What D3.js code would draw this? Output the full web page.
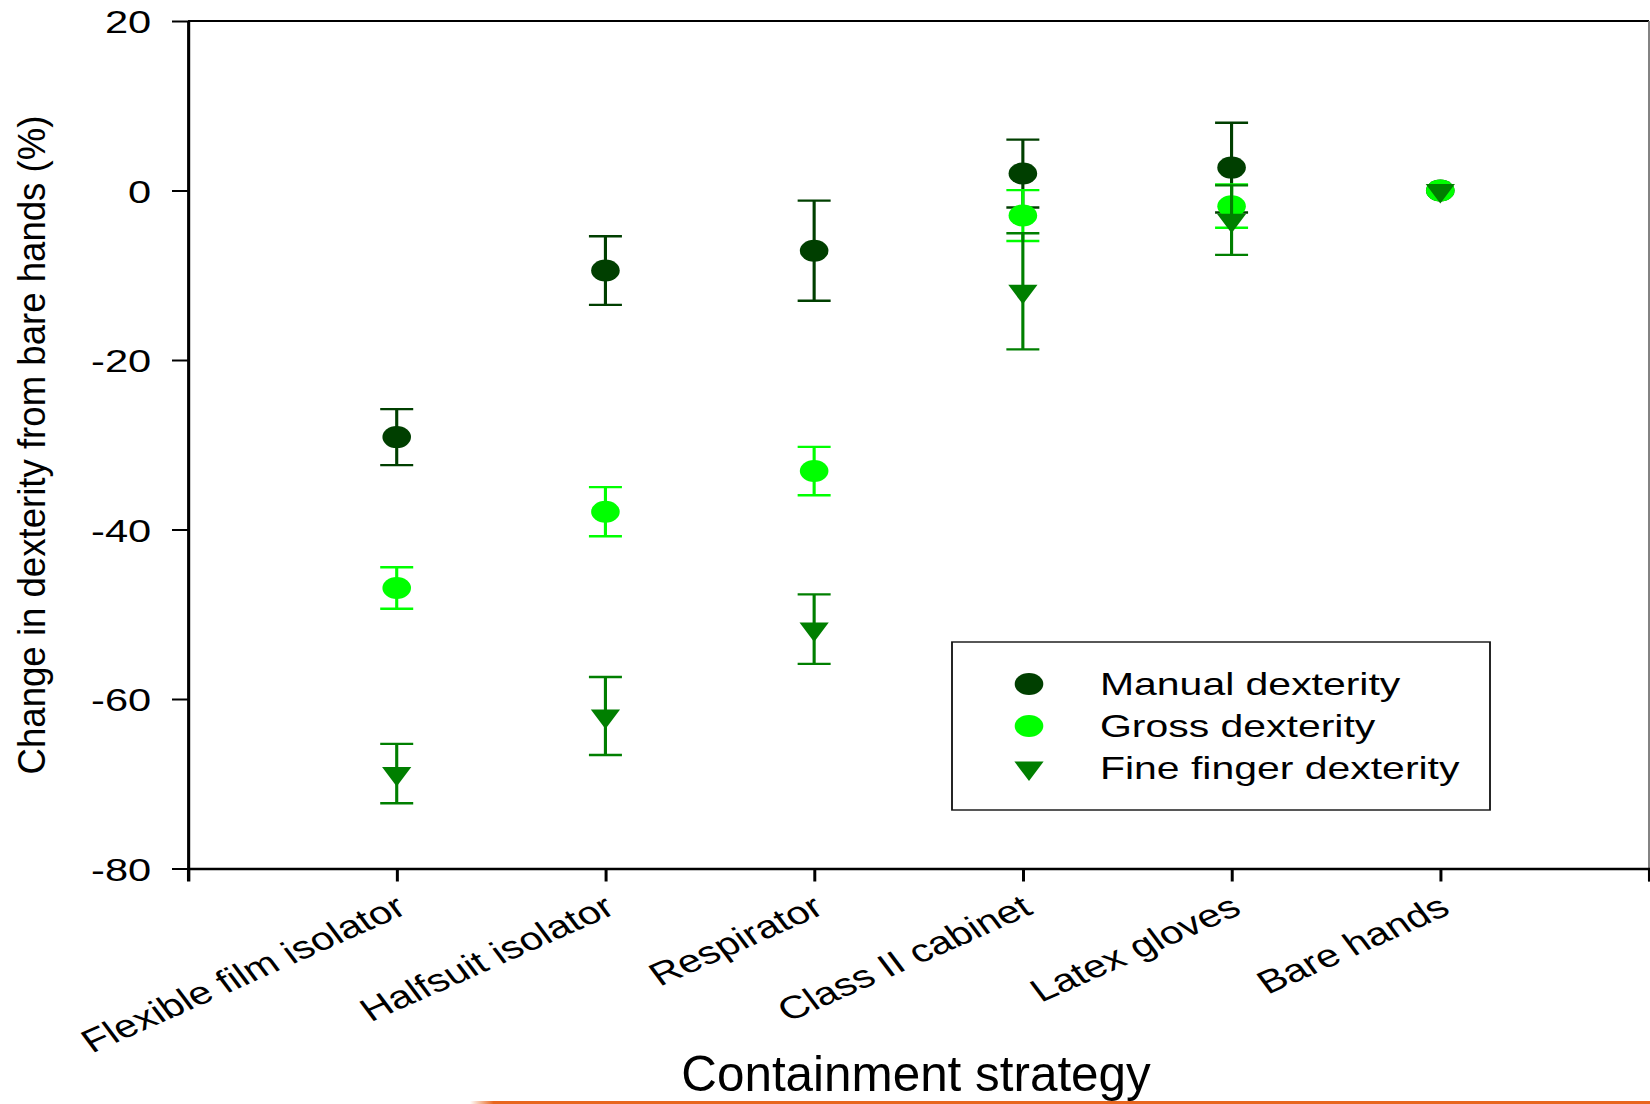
<!DOCTYPE html>
<html>
<head>
<meta charset="utf-8">
<script src="https://cdn.jsdelivr.net/npm/d3@7"></script>
<style>
  html, body { margin: 0; padding: 0; background: #fff; }
  svg { display: block; }
  text { font-family: "Liberation Sans", Arial, sans-serif; fill: #000; }
</style>
</head>
<body>
<div id="chart"></div>
<script>
// data (mean % change and error bar half-length)
const categories = ['Flexible film isolator', 'Halfsuit isolator', 'Respirator',
                    'Class II cabinet', 'Latex gloves', 'Bare hands'];
const manualMean = [-29.1, -9.45, -7.1, 2.0, 2.7, 0];
const manualErr  = [3.3, 4.05, 5.9, 4.0, 5.3, 0];
const grossMean  = [-46.9, -37.9, -33.1, -2.95, -1.85, 0];
const grossErr   = [2.45, 2.9, 2.85, 3.0, 2.55, 0];
const fineMean   = [-68.8, -62.0, -51.75, -11.9, -3.5, 0];
const fineErr    = [3.5, 4.6, 4.1, 6.85, 4.1, 0];
const yTicks = [-80, -60, -40, -20, 0, 20];
const seriesNames = ['Manual dexterity', 'Gross dexterity', 'Fine finger dexterity'];

// the source picture is stretched sideways; draw in a narrower space and stretch it
const SX = 1.3;
const width = 1650;
const height = 1104;
const W = width / SX;

const series = [
  { name: seriesNames[0], mean: manualMean, err: manualErr, color: '#003f00', shape: 'circle' },
  { name: seriesNames[1], mean: grossMean, err: grossErr, color: '#00ff00', shape: 'circle' },
  { name: seriesNames[2], mean: fineMean, err: fineErr, color: '#007f00', shape: 'triangle' }
];

const svg = d3.select('#chart')
  .append('svg')
  .attr('width', width)
  .attr('height', height)
  .attr('viewBox', `0 0 ${W} ${height}`)
  .attr('preserveAspectRatio', 'none');

const x = d3.scaleLinear()
  .domain([0, categories.length + 1])
  .range([188 / SX, 1649 / SX]);
const y = d3.scaleLinear()
  .domain([-80, 20])
  .range([868.5, 21]);

const fontTick = 32;
const r = 11;
const tri = 22.5;
const triH = tri * Math.sqrt(3) / 2;
const triPath = `M${-tri / 2},${-triH / 3}L${tri / 2},${-triH / 3}L0,${2 * triH / 3}Z`;

function drawMarker(g, shape, color) {
  if (shape === 'circle') {
    g.append('circle').attr('r', r).attr('fill', color);
  } else {
    g.append('path').attr('d', triPath).attr('fill', color);
  }
}

// frame: top line and thin right edge
svg.append('line')
   .attr('x1', x(0)).attr('x2', x(categories.length + 1))
   .attr('y1', y(20)).attr('y2', y(20))
   .attr('stroke', '#000').attr('stroke-width', 2);
svg.append('line')
   .attr('x1', x(categories.length + 1)).attr('x2', x(categories.length + 1))
   .attr('y1', y(20)).attr('y2', y(-80) + 13)
   .attr('stroke', '#777').attr('stroke-width', 1.4);

// Y axis
const yAxis = svg.append('g')
  .attr('transform', `translate(${x(0)},0)`)
  .call(d3.axisLeft(y)
          .tickValues(yTicks)
          .tickSize(16 / SX)
          .tickSizeOuter(0)
          .tickPadding(16)
          .tickFormat((d) => String(d)));
yAxis.select('.domain').attr('stroke', '#000').attr('stroke-width', 2.4);
yAxis.selectAll('.tick line').attr('stroke', '#000').attr('stroke-width', 2);
yAxis.selectAll('.tick text')
     .attr('font-size', fontTick)
     .attr('font-family', '"Liberation Sans", Arial, sans-serif')
     .attr('dy', '0.36em');

// X axis
const xAxis = svg.append('g')
  .attr('transform', `translate(0,${y(-80)})`)
  .call(d3.axisBottom(x)
          .tickValues(categories.map((c, i) => i + 1))
          .tickSize(13)
          .tickSizeOuter(13)
          .tickFormat(() => ''));
xAxis.select('.domain').attr('stroke', '#000').attr('stroke-width', 2.6);
xAxis.selectAll('.tick line').attr('stroke', '#000').attr('stroke-width', 2.3);

svg.append('g')
   .selectAll('text')
   .data(categories)
   .enter()
   .append('text')
   .attr('transform', (d, i) => `translate(${x(i + 1) + 9},913) rotate(-30)`)
   .attr('text-anchor', 'end')
   .attr('font-size', 32)
   .text((d) => d);

// axis titles (not stretched in the source)
svg.append('text')
   .attr('transform', `translate(${45 / SX},445) scale(${1.08 / SX},1) rotate(-90)`)
   .attr('text-anchor', 'middle')
   .attr('font-size', 36.6)
   .text('Change in dexterity from bare hands (%)');
svg.append('text')
   .attr('transform', `translate(${916 / SX},1091) scale(${1 / SX},1)`)
   .attr('text-anchor', 'middle')
   .attr('font-size', 49.4)
   .text('Containment strategy');

// error bars and markers, series by series
const capHalf = 16.5 / SX;
for (const s of series) {
  const g = svg.append('g');
  const pts = categories.map((c, i) => ({ i: i, m: s.mean[i], e: s.err[i] }));
  const bars = g.selectAll('.bar')
    .data(pts.filter((d) => d.e > 0))
    .enter()
    .append('g')
    .attr('stroke', s.color)
    .attr('stroke-width', 2.4);
  bars.append('line')
      .attr('x1', (d) => x(d.i + 1)).attr('x2', (d) => x(d.i + 1))
      .attr('y1', (d) => y(d.m + d.e)).attr('y2', (d) => y(d.m - d.e));
  bars.append('line')
      .attr('x1', (d) => x(d.i + 1) - capHalf).attr('x2', (d) => x(d.i + 1) + capHalf)
      .attr('y1', (d) => y(d.m + d.e)).attr('y2', (d) => y(d.m + d.e));
  bars.append('line')
      .attr('x1', (d) => x(d.i + 1) - capHalf).attr('x2', (d) => x(d.i + 1) + capHalf)
      .attr('y1', (d) => y(d.m - d.e)).attr('y2', (d) => y(d.m - d.e));
  g.selectAll('.mark')
   .data(pts)
   .enter()
   .append('g')
   .attr('transform', (d) => `translate(${x(d.i + 1)},${y(d.m)})`)
   .each(function () { drawMarker(d3.select(this), s.shape, s.color); });
}

// legend
const legend = svg.append('g');
legend.append('rect')
      .attr('x', 952 / SX).attr('y', 642)
      .attr('width', (1490 - 952) / SX).attr('height', 168)
      .attr('fill', '#fff').attr('stroke', '#111').attr('stroke-width', 1.4);
const rows = legend.selectAll('.row')
  .data(series)
  .enter()
  .append('g')
  .attr('transform', (d, i) => `translate(${1029 / SX},${684 + i * 42})`);
rows.each(function (d) { drawMarker(d3.select(this), d.shape, d.color); });
rows.append('text')
    .attr('x', (1100 - 1029) / SX)
    .attr('y', 11)
    .attr('font-size', 31.5)
    .text((d) => d.name);

// orange rule along the bottom edge of the source picture
const grad = svg.append('defs').append('linearGradient')
  .attr('id', 'fade').attr('x1', '0').attr('x2', '1');
grad.append('stop').attr('offset', '0').attr('stop-color', '#e8661e').attr('stop-opacity', 0);
grad.append('stop').attr('offset', '0.02').attr('stop-color', '#e8661e').attr('stop-opacity', 1);
grad.append('stop').attr('offset', '1').attr('stop-color', '#e8661e').attr('stop-opacity', 1);
svg.append('rect')
   .attr('x', 470 / SX).attr('y', 1101)
   .attr('width', W - 470 / SX).attr('height', 3)
   .attr('fill', 'url(#fade)');
</script>
</body>
</html>
